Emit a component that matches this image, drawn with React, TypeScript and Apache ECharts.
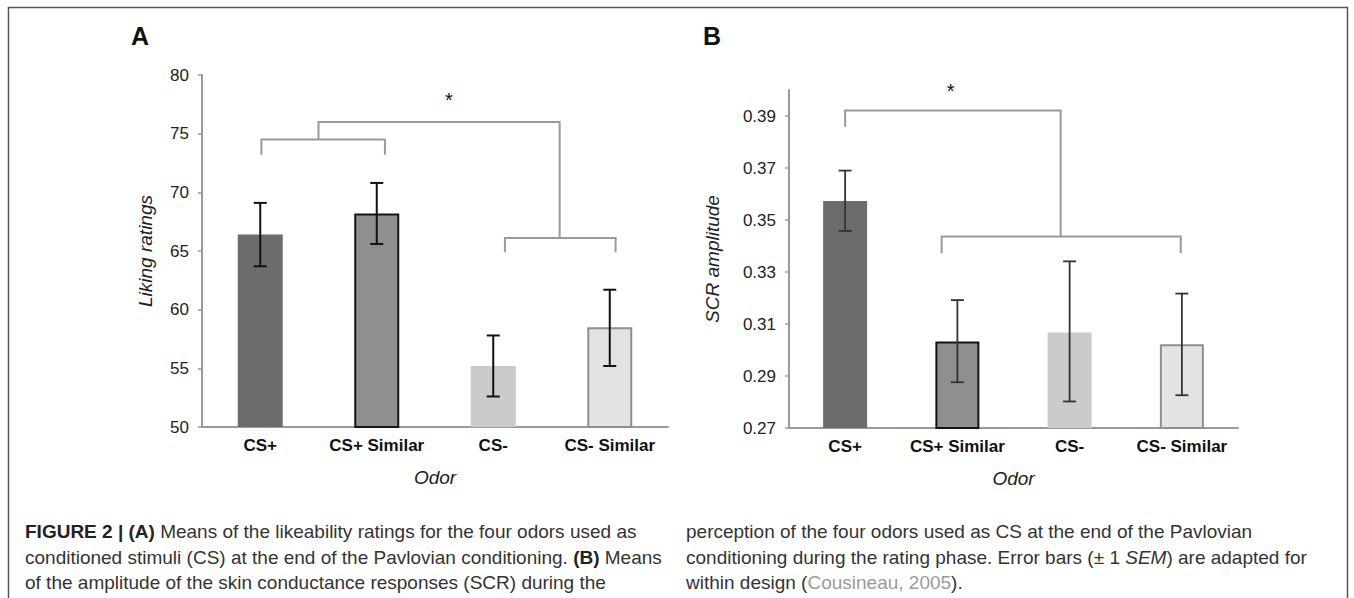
import React, { useEffect, useRef } from 'react';
import * as echarts from 'echarts';

const categories = ['CS+', 'CS+ Similar', 'CS-', 'CS- Similar'];

const likingMeans = [66.4, 68.2, 55.2, 58.5];
const likingLow = [63.7, 65.6, 52.6, 55.2];
const likingHigh = [69.1, 70.8, 57.8, 61.7];

const scrMeans = [0.3573, 0.3033, 0.3067, 0.3022];
const scrLow = [0.3458, 0.2876, 0.2802, 0.2826];
const scrHigh = [0.369, 0.3192, 0.3341, 0.3217];
const scrTicks = [0.27, 0.29, 0.31, 0.33, 0.35, 0.37, 0.39];

// brackets: [xLeft, xRight, yBar, yLeftEnd, yRightEnd] (x in category units)
const likingBrackets = [
  [0.01, 1.07, 74.5, 73.2, 73.2],
  [2.1, 3.05, 66.1, 64.9, 64.9],
  [0.5, 2.57, 76.0, 74.5, 66.1],
];
const likingStar = [1.62, 77.9];
const scrBrackets = [
  [0.86, 2.99, 0.3437, 0.3372, 0.3372],
  [0.0, 1.92, 0.3921, 0.3859, 0.3437],
];
const scrStar = [0.94, 0.3995];

const captionLeft = [
  '{b|FIGURE 2 | (A)} Means of the likeability ratings for the four odors used as',
  'conditioned stimuli (CS) at the end of the Pavlovian conditioning. {b|(B)} Means',
  'of the amplitude of the skin conductance responses (SCR) during the',
];
const captionRight = [
  'perception of the four odors used as CS at the end of the Pavlovian',
  'conditioning during the rating phase. Error bars (± 1 {i|SEM}) are adapted for',
  'within design ({g|Cousineau, 2005}).',
];

const FONT = "'Liberation Sans', Arial, Helvetica, sans-serif";
const AXIS_GRAY = '#9a9a9a';
const CAP_SIZE = 19;

const barStyles = [
  { color: '#6c6c6c', borderWidth: 0 },
  { color: '#8f8f8f', borderColor: '#141414', borderWidth: 2 },
  { color: '#cbcbcb', borderWidth: 0 },
  { color: '#e3e3e3', borderColor: '#8f8f8f', borderWidth: 2 },
];

function errorSeries(gridIdx: number, low: number[], high: number[], stroke: string, lw: number) {
  return {
    type: 'custom',
    xAxisIndex: gridIdx * 2 + 1,
    yAxisIndex: gridIdx,
    clip: false,
    z: 5,
    data: low.map((l, i) => [i, l, high[i]]),
    renderItem: (_p: any, api: any) => {
      const x = api.value(0);
      const top = api.coord([x, api.value(2)]);
      const bot = api.coord([x, api.value(1)]);
      const hw = 6.5;
      const st = { stroke, lineWidth: lw };
      return {
        type: 'group',
        children: [
          { type: 'line', shape: { x1: top[0], y1: top[1], x2: bot[0], y2: bot[1] }, style: st },
          { type: 'line', shape: { x1: top[0] - hw, y1: top[1], x2: top[0] + hw, y2: top[1] }, style: st },
          { type: 'line', shape: { x1: bot[0] - hw, y1: bot[1], x2: bot[0] + hw, y2: bot[1] }, style: st },
        ],
      };
    },
  };
}

function bracketSeries(gridIdx: number, brackets: number[][]) {
  return {
    type: 'custom',
    xAxisIndex: gridIdx * 2 + 1,
    yAxisIndex: gridIdx,
    clip: false,
    z: 4,
    data: brackets,
    renderItem: (_p: any, api: any) => {
      const xl = api.value(0), xr = api.value(1), yb = api.value(2);
      const p1 = api.coord([xl, api.value(3)]);
      const p2 = api.coord([xl, yb]);
      const p3 = api.coord([xr, yb]);
      const p4 = api.coord([xr, api.value(4)]);
      return {
        type: 'polyline',
        shape: { points: [p1, p2, p3, p4] },
        style: { stroke: AXIS_GRAY, lineWidth: 2, fill: null },
      };
    },
  };
}

function starSeries(gridIdx: number, star: number[]) {
  return {
    type: 'custom',
    xAxisIndex: gridIdx * 2 + 1,
    yAxisIndex: gridIdx,
    clip: false,
    z: 4,
    data: [star],
    renderItem: (_p: any, api: any) => {
      const p = api.coord([api.value(0), api.value(1)]);
      return {
        type: 'text',
        x: p[0],
        y: p[1],
        style: { text: '*', fontSize: 20, fontFamily: FONT, fill: '#111', align: 'center', verticalAlign: 'middle' },
      };
    },
  };
}

function captionTexts(lines: string[], x: number) {
  const ys = [531, 557, 582];
  return lines.map((t, i) => ({
    type: 'text',
    x,
    y: ys[i],
    style: {
      text: t,
      fontSize: CAP_SIZE,
      fontFamily: FONT,
      fill: '#333',
      verticalAlign: 'middle',
      rich: {
        b: { fontWeight: 'bold', fontSize: CAP_SIZE, fontFamily: FONT, fill: '#222' },
        i: { fontStyle: 'italic', fontSize: CAP_SIZE, fontFamily: FONT, fill: '#333' },
        g: { fontSize: CAP_SIZE, fontFamily: FONT, fill: '#9a9a9a' },
      },
    },
  }));
}

export default function App() {
  const ref = useRef<HTMLDivElement>(null);
  useEffect(() => {
    if (!ref.current) return;
    const chart = echarts.init(ref.current, null, { renderer: 'svg' });
    const catAxis = (gridIndex: number) => ({
      type: 'category',
      gridIndex,
      data: categories,
      axisLine: { show: true, onZero: false, lineStyle: { color: AXIS_GRAY, width: 2 } },
      axisTick: { show: false },
      axisLabel: { interval: 0, fontSize: 17, fontWeight: 'bold', color: '#111', fontFamily: FONT, margin: 10 },
      name: 'Odor',
      nameLocation: 'middle',
      nameGap: 41,
      nameTextStyle: { fontSize: 19, fontStyle: 'italic', color: '#222', fontFamily: FONT },
    });
    const hiddenX = (gridIndex: number) => ({
      type: 'value',
      gridIndex,
      min: -0.5,
      max: 3.5,
      show: false,
    });
    const option: any = {
      animation: false,
      backgroundColor: '#fff',
      grid: [
        { left: 202, top: 75, width: 466, height: 352 },
        { left: 789, top: 90, width: 449, height: 338 },
      ],
      xAxis: [catAxis(0), hiddenX(0), catAxis(1), hiddenX(1)],
      yAxis: [
        {
          type: 'value',
          gridIndex: 0,
          min: 50,
          max: 80,
          interval: 5,
          axisLine: { show: true, onZero: false, lineStyle: { color: AXIS_GRAY, width: 2 } },
          axisTick: { show: true, length: 4, lineStyle: { color: AXIS_GRAY, width: 1.5 } },
          splitLine: { show: false },
          axisLabel: { fontSize: 17, color: '#222', fontFamily: FONT, margin: 13 },
          name: 'Liking ratings',
          nameLocation: 'middle',
          nameGap: 47,
          nameRotate: 90,
          nameTextStyle: { fontSize: 19, fontStyle: 'italic', color: '#222', fontFamily: FONT },
        },
        {
          type: 'value',
          gridIndex: 1,
          min: 0.27,
          max: 0.4,
          interval: 0.01,
          axisLine: { show: true, onZero: false, lineStyle: { color: AXIS_GRAY, width: 2 } },
          axisTick: { show: true, length: 4, customValues: scrTicks, lineStyle: { color: AXIS_GRAY, width: 1.5 } },
          splitLine: { show: false },
          axisLabel: {
            fontSize: 17,
            color: '#222',
            fontFamily: FONT,
            margin: 13,
            customValues: scrTicks,
            formatter: (v: number) => v.toFixed(2),
          },
          name: 'SCR amplitude',
          nameLocation: 'middle',
          nameGap: 67,
          nameRotate: 90,
          nameTextStyle: { fontSize: 19, fontStyle: 'italic', color: '#222', fontFamily: FONT },
        },
      ],
      series: [
        {
          type: 'bar',
          xAxisIndex: 0,
          yAxisIndex: 0,
          barWidth: 45,
          data: likingMeans.map((v, i) => ({ value: v, itemStyle: barStyles[i] })),
          z: 2,
        },
        errorSeries(0, likingLow, likingHigh, '#111', 2),
        bracketSeries(0, likingBrackets),
        starSeries(0, likingStar),
        {
          type: 'bar',
          xAxisIndex: 2,
          yAxisIndex: 1,
          barWidth: 44,
          data: scrMeans.map((v, i) => ({ value: v, itemStyle: barStyles[i] })),
          z: 2,
        },
        errorSeries(1, scrLow, scrHigh, '#333', 1.8),
        bracketSeries(1, scrBrackets),
        starSeries(1, scrStar),
      ],
      graphic: [
        {
          type: 'rect',
          shape: { x: 8.5, y: 7.5, width: 1339, height: 700 },
          style: { fill: 'none', stroke: '#555', lineWidth: 1.5 },
          silent: true,
        },
        {
          type: 'text',
          x: 140,
          y: 36,
          style: { text: 'A', fontSize: 25, fontWeight: 'bold', fontFamily: FONT, fill: '#111', align: 'center', verticalAlign: 'middle' },
        },
        {
          type: 'text',
          x: 712,
          y: 36,
          style: { text: 'B', fontSize: 25, fontWeight: 'bold', fontFamily: FONT, fill: '#111', align: 'center', verticalAlign: 'middle' },
        },
        ...captionTexts(captionLeft, 25),
        ...captionTexts(captionRight, 686),
      ],
    };
    chart.setOption(option);
    return () => chart.dispose();
  }, []);
  return (
    <div
      ref={ref}
      style={{ position: 'absolute', left: 0, top: 0, width: 1354, height: 598 }}
    />
  );
}
